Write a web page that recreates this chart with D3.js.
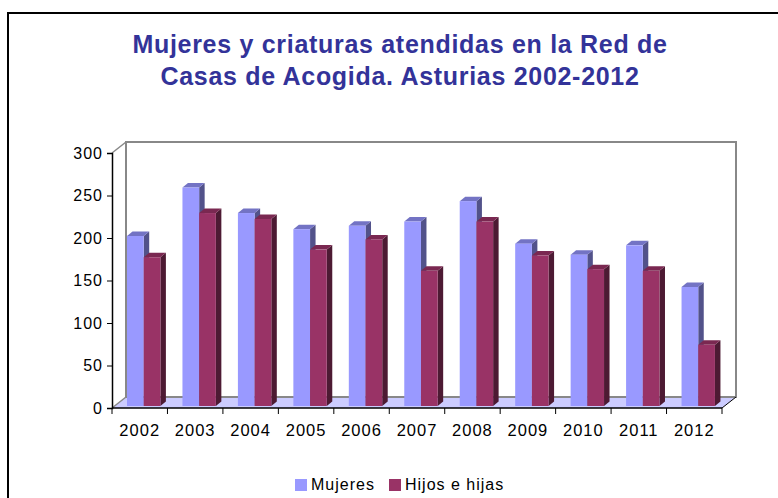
<!DOCTYPE html>
<meta charset="utf-8">
<title>Mujeres y criaturas atendidas</title>
<style>
body { margin: 0; background: #fff; font-family: 'Liberation Sans', Arial, sans-serif; }
svg text { font-family: 'Liberation Sans', Arial, sans-serif; }
</style>
<body>
<script src="https://d3js.org/d3.v7.min.js"></script>
<script>
// chart data
var years = ["2002", "2003", "2004", "2005", "2006", "2007", "2008", "2009", "2010", "2011", "2012"];
var mujeres = [200, 257, 227, 208, 212, 217, 241, 191, 178, 189, 140];
var hijos = [175, 227, 220, 184, 196, 159, 217, 177, 161, 159, 72];
var yTicks = [0, 50, 100, 150, 200, 250, 300];
var seriesNames = ["Mujeres", "Hijos e hijas"];

var width = 778, height = 498;

var svg = d3.select("body").append("svg")
    .attr("width", width)
    .attr("height", height);

// outer frame
svg.append("rect")
    .attr("x", 8).attr("y", 13)
    .attr("width", 800).attr("height", 520)
    .attr("fill", "none")
    .attr("stroke", "#000")
    .attr("stroke-width", 2);

// title
var title = svg.append("text")
    .attr("text-anchor", "middle")
    .attr("fill", "#333399")
    .attr("font-weight", "bold")
    .attr("font-size", 25)
    .attr("letter-spacing", 0.7);
title.append("tspan").attr("x", 400).attr("y", 53).text("Mujeres y criaturas atendidas en la Red de");
title.append("tspan").attr("x", 400).attr("y", 85).text("Casas de Acogida. Asturias 2002-2012");

// plot geometry (front plane + depth offset)
var pLeft = 112, pRight = 722, pTop = 153, pBottom = 408;
var dx = 14, dy = -11;

var x = d3.scaleBand().domain(years).range([pLeft, pRight]);
var y = d3.scaleLinear().domain([0, 300]).range([pBottom, pTop]);
// bars sit slightly behind the front plane
var yBar = d3.scaleLinear().domain([0, 300]).range([pBottom - 2, pTop - 2]);

var g = svg.append("g");

// floor
g.append("path")
    .attr("d", "M" + pLeft + "," + pBottom + "L" + pRight + "," + pBottom +
        "L" + (pRight + dx) + "," + (pBottom + dy) + "L" + (pLeft + dx) + "," + (pBottom + dy) + "Z")
    .attr("fill", "#ccccff")
    .attr("stroke", "none");

// back wall edges
g.append("path")
    .attr("d", "M" + (pLeft + dx) + "," + (pBottom + dy) + "L" + (pLeft + dx) + "," + (pTop + dy) +
        "L" + (pRight + dx) + "," + (pTop + dy) + "L" + (pRight + dx) + "," + (pBottom + dy) +
        "L" + (pLeft + dx) + "," + (pBottom + dy))
    .attr("fill", "none")
    .attr("stroke", "#888")
    .attr("stroke-width", 2);

// side wall diagonals
g.append("path")
    .attr("d", "M" + pLeft + "," + pTop + "L" + (pLeft + dx) + "," + (pTop + dy) +
        "M" + pLeft + "," + pBottom + "L" + (pLeft + dx) + "," + (pBottom + dy))
    .attr("fill", "none")
    .attr("stroke", "#888")
    .attr("stroke-width", 1.5);

g.append("path")
    .attr("d", "M" + pRight + "," + pBottom + "L" + (pRight + dx) + "," + (pBottom + dy))
    .attr("fill", "none")
    .attr("stroke", "#000")
    .attr("stroke-width", 1);

// bars
var barW = 16.7, bdx = 5.5, bdy = -4.5;
var colors = [
    { front: "#9999ff", top: "#7373c4", side: "#52528a" },
    { front: "#993366", top: "#7a2851", side: "#4d1a33" }
];
var series = [mujeres, hijos];

function drawBar(x0, v, c) {
    var y0 = yBar(0), y1 = yBar(v);
    // side
    g.append("path")
        .attr("d", "M" + (x0 + barW) + "," + y0 + "L" + (x0 + barW) + "," + y1 +
            "L" + (x0 + barW + bdx) + "," + (y1 + bdy) + "L" + (x0 + barW + bdx) + "," + (y0 + bdy) + "Z")
        .attr("fill", c.side);
    // top
    g.append("path")
        .attr("d", "M" + x0 + "," + y1 + "L" + (x0 + barW) + "," + y1 +
            "L" + (x0 + barW + bdx) + "," + (y1 + bdy) + "L" + (x0 + bdx) + "," + (y1 + bdy) + "Z")
        .attr("fill", c.top);
    // front
    g.append("rect")
        .attr("x", x0).attr("y", y1)
        .attr("width", barW).attr("height", y0 - y1)
        .attr("fill", c.front);
}

years.forEach(function(yr, i) {
    series.forEach(function(s, k) {
        drawBar(x(yr) + 15 + k * barW, s[i], colors[k]);
    });
});

// y axis
var yAxis = svg.append("g")
    .attr("transform", "translate(" + pLeft + ",0)")
    .call(d3.axisLeft(y).tickValues(yTicks).tickSize(5).tickPadding(4));
yAxis.select(".domain").attr("stroke", "#000").attr("stroke-width", 1.5);
yAxis.selectAll(".tick line").attr("stroke", "#000");
yAxis.selectAll("text")
    .attr("font-size", 16)
    .attr("letter-spacing", 1)
    .attr("fill", "#000")
    .attr("font-family", "'Liberation Sans', Arial, sans-serif");

// x axis line and boundary ticks
svg.append("line")
    .attr("x1", pLeft).attr("x2", pRight)
    .attr("y1", pBottom).attr("y2", pBottom)
    .attr("stroke", "#000").attr("stroke-width", 1.5);

var bounds = years.map(function(d) { return x(d); }).concat([pRight]);
svg.selectAll(".xtick")
    .data(bounds)
    .enter().append("line")
    .attr("class", "xtick")
    .attr("x1", function(d) { return d; }).attr("x2", function(d) { return d; })
    .attr("y1", pBottom).attr("y2", pBottom + 6)
    .attr("stroke", "#000");

svg.selectAll(".xlabel")
    .data(years)
    .enter().append("text")
    .attr("class", "xlabel")
    .attr("x", function(d) { return x(d) + x.bandwidth() / 2; })
    .attr("y", 436)
    .attr("text-anchor", "middle")
    .attr("font-size", 16.5)
    .attr("letter-spacing", 1)
    .attr("fill", "#000")
    .text(function(d) { return d; });

// legend
var legend = svg.append("g");
var legX = [295, 389], legTextX = [311, 405];
seriesNames.forEach(function(name, k) {
    legend.append("rect")
        .attr("x", legX[k]).attr("y", 479)
        .attr("width", 12).attr("height", 12)
        .attr("fill", colors[k].front);
    legend.append("text")
        .attr("x", legTextX[k]).attr("y", 490)
        .attr("font-size", 16)
        .attr("letter-spacing", 1)
        .attr("fill", "#000")
        .text(name);
});
</script>
</body>
